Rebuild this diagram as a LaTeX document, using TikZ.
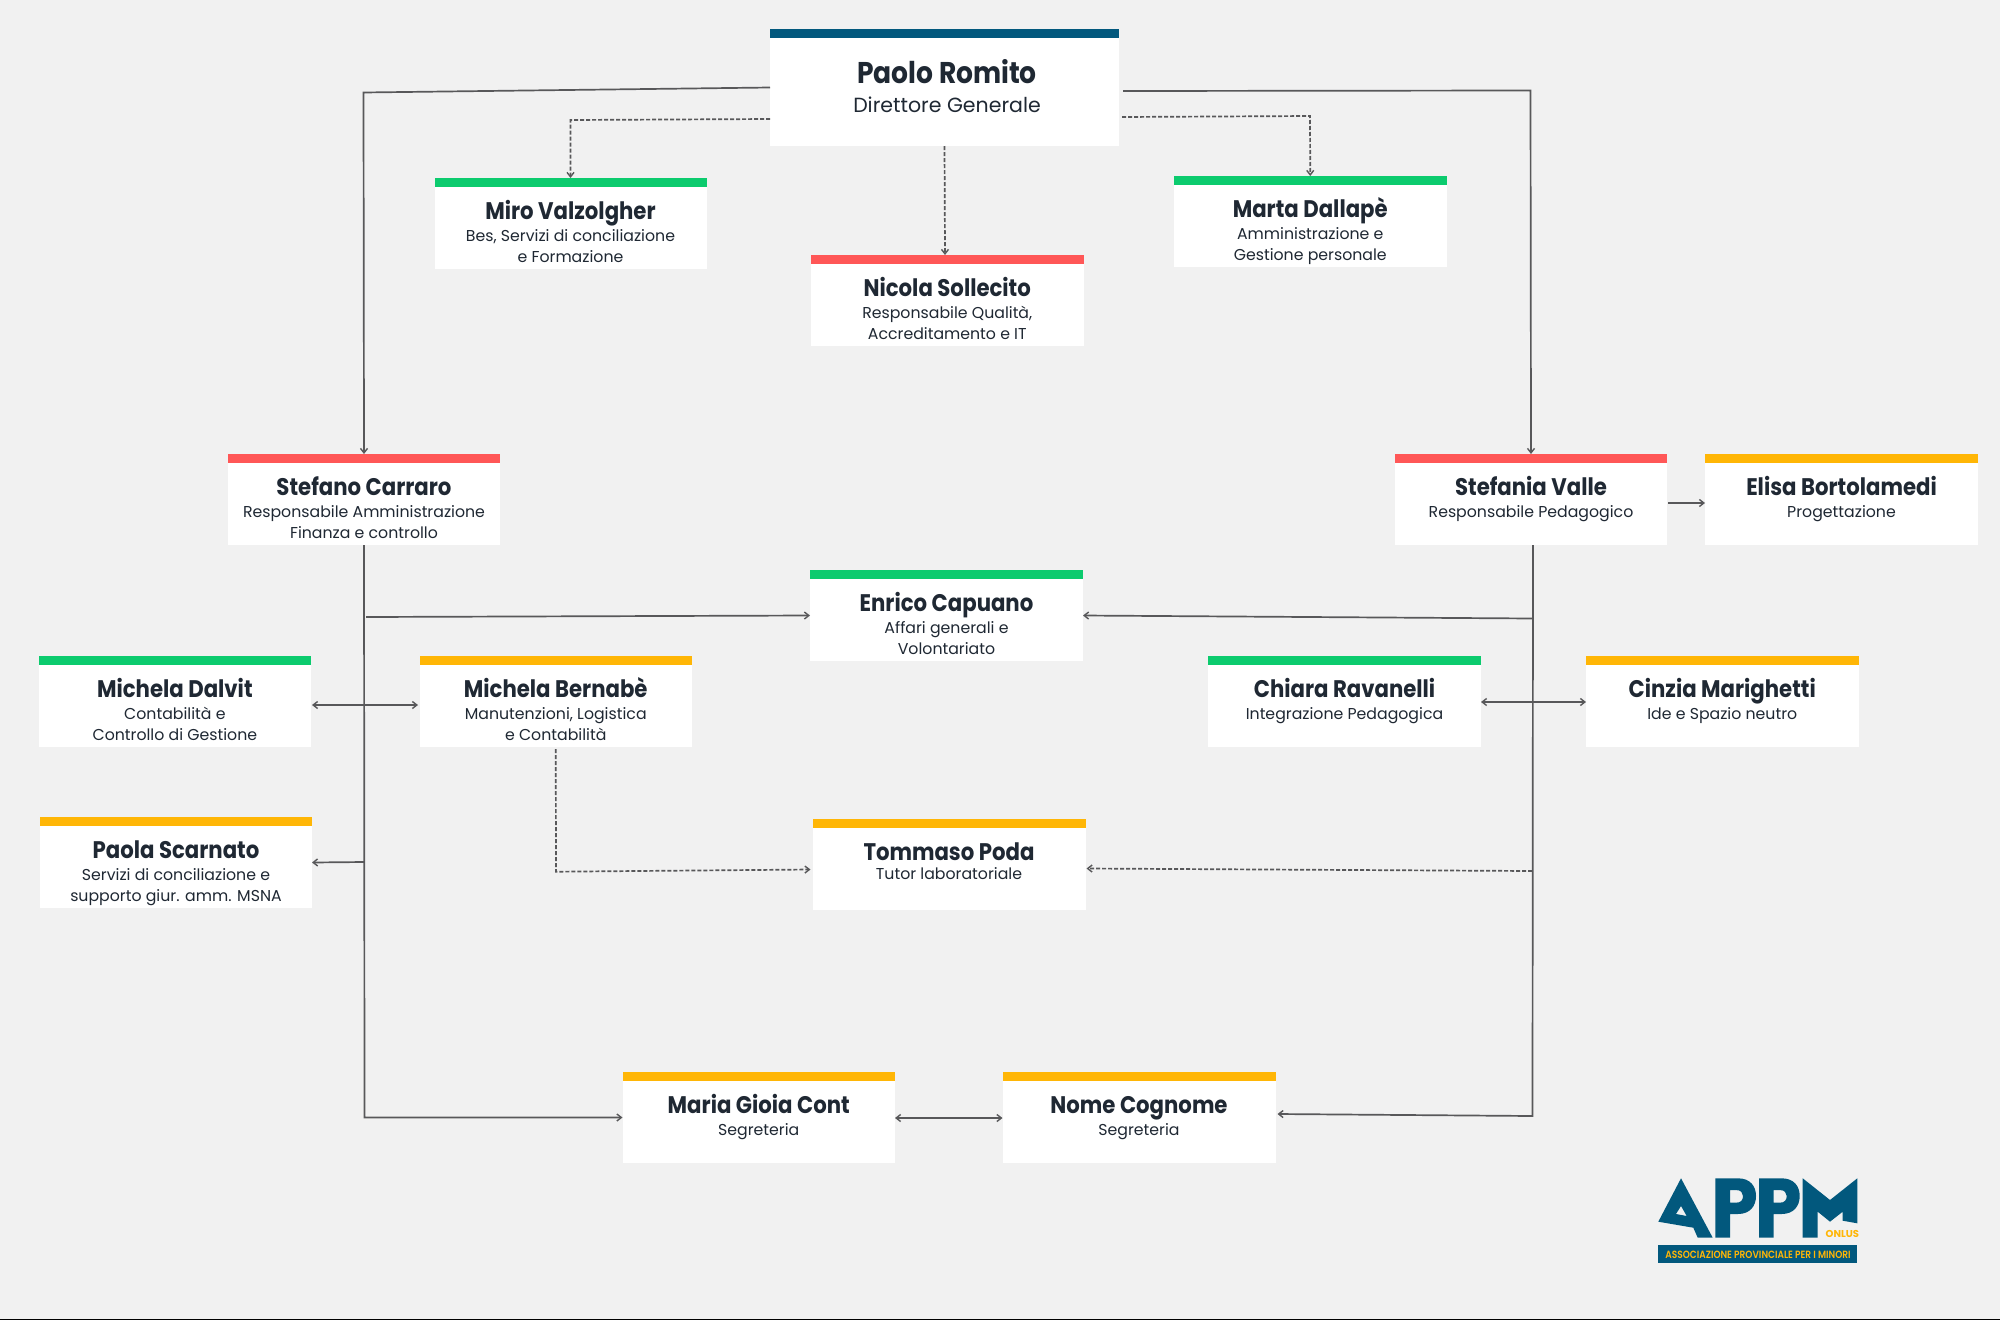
\documentclass[tikz,border=0pt]{standalone}
\usepackage{fontspec}
\usetikzlibrary{arrows.meta,calc}
\newfontfamily\namefont[FakeStretch=0.885]{Poppins Bold}
\newfontfamily\logofont[FakeStretch=0.86]{Poppins SemiBold}
\newfontfamily\onlusfont{Poppins Bold}
\newfontfamily\subfont{Poppins}
\definecolor{bgc}{HTML}{F1F1F1}
\definecolor{ink}{HTML}{1F2833}
\definecolor{linec}{HTML}{58585A}
\definecolor{navy}{HTML}{02587D}
\definecolor{ambra}{HTML}{FFB606}
\definecolor{verde}{HTML}{0CCB6E}
\definecolor{rosso}{HTML}{FF5757}
\tikzset{
  x=1pt,y=-1pt,
  cardbox/.style={fill=white,draw=none,inner sep=0pt,outer sep=0pt,minimum height=91pt},
  barbox/.style={draw=none,inner sep=0pt,outer sep=0pt,minimum height=8.5pt},
  nm/.style={anchor=base,inner sep=0pt,text=ink,font=\namefont\fontsize{24}{24}\selectfont},
  sb/.style={anchor=base,inner sep=0pt,text=ink,font=\subfont\fontsize{15.75}{15.75}\selectfont},
  conn/.style={draw=linec,line width=1.7pt,-{Straight Barb[length=4.5pt,width=7pt,line width=1.4pt]}},
  bothconn/.style={conn,{Straight Barb[length=4.5pt,width=7pt,line width=1.4pt]}-{Straight Barb[length=4.5pt,width=7pt,line width=1.4pt]}},
  dashconn/.style={conn,dash pattern=on 4pt off 2pt},
  logoshape/.style={fill=navy,draw=none},
  logotext/.style={anchor=base,inner sep=0pt,text=ambra},
}
% id, x1, x2, ytop, colour, name, line1, line2
\newcommand{\card}[8]{%
  \node[cardbox,minimum width={(#3-#2)*1pt}] (#1) at ({(#2+#3)/2},{#4+45.5}) {};
  \node[barbox,fill=#5,minimum width={(#3-#2)*1pt}] (#1-bar) at ({(#2+#3)/2},{#4+4.25}) {};
  \node[nm] (#1-name) at ({(#2+#3)/2},{#4+41.5}) {#6};
  \node[sb] (#1-a) at ({(#2+#3)/2},{#4+63.4}) {#7};
  \node[sb] (#1-b) at ({(#2+#3)/2},{#4+84.7}) {#8};
}
\newcommand{\pletter}{%
  (1715.3,1178.3) -- (1738,1178.3) .. controls (1750,1178.3) and (1756,1186) .. (1756,1196)
  .. controls (1756,1206) and (1750,1214) .. (1738,1214) -- (1730,1214) -- (1730,1237.7) -- (1715.3,1237.7) -- cycle
  (1730,1190) -- (1736,1190) .. controls (1741,1190) and (1743,1193) .. (1743,1196)
  .. controls (1743,1200) and (1741,1202.7) .. (1736,1202.7) -- (1730,1202.7) -- cycle}
\begin{document}
\begin{tikzpicture}
\useasboundingbox (0,0) rectangle (2000,1320);
\fill[bgc] (0,0) rectangle (2000,1320);
\fill[black] (0,1319) rectangle (2000,1320);
% top card
\node[cardbox,minimum width=349pt,minimum height=117pt] (romito) at (944.5,87.5) {};
\node[barbox,fill=navy,minimum width=349pt] (romito-bar) at (944,33.25) {};
\node[nm,font=\namefont\fontsize{30}{30}\selectfont] (romito-name) at (947,83) {Paolo Romito};
\node[sb,font=\subfont\fontsize{20.5}{20.5}\selectfont] (romito-sub) at (947,112) {Direttore Generale};
\card{miro}{434.5}{706.5}{178}{verde}{Miro Valzolgher}{Bes, Servizi di conciliazione}{e Formazione}
\card{nicola}{811}{1083.5}{255}{rosso}{Nicola Sollecito}{Responsabile Qualità,}{Accreditamento e IT}
\card{marta}{1174}{1446.5}{176}{verde}{Marta Dallapè}{Amministrazione e}{Gestione personale}
\card{carraro}{228}{500}{454}{rosso}{Stefano Carraro}{Responsabile Amministrazione}{Finanza e controllo}
\card{valle}{1395}{1667}{454}{rosso}{Stefania Valle}{Responsabile Pedagogico}{}
\card{elisa}{1705}{1978}{454}{ambra}{Elisa Bortolamedi}{Progettazione}{}
\card{capuano}{810}{1083}{570}{verde}{Enrico Capuano}{Affari generali e}{Volontariato}
\card{dalvit}{38.75}{311}{656}{verde}{Michela Dalvit}{Contabilità e}{Controllo di Gestione}
\card{bernabe}{419.5}{692}{656}{ambra}{Michela Bernabè}{Manutenzioni, Logistica}{e Contabilità}
\card{ravanelli}{1208}{1481}{656}{verde}{Chiara Ravanelli}{Integrazione Pedagogica}{}
\card{marighetti}{1586}{1858.5}{656}{ambra}{Cinzia Marighetti}{Ide e Spazio neutro}{}
\card{scarnato}{40}{312}{817}{ambra}{Paola Scarnato}{Servizi di conciliazione e}{supporto giur. amm. MSNA}
\card{poda}{812.5}{1085.5}{819}{ambra}{Tommaso Poda}{}{}
\node[sb] (poda-sub) at (949,879.5) {Tutor laboratoriale};
\card{cont}{622.5}{895}{1072}{ambra}{Maria Gioia Cont}{Segreteria}{}
\card{cognome}{1002.5}{1275.5}{1072}{ambra}{Nome Cognome}{Segreteria}{}
% bends and junctions
\coordinate (tl) at (363.5,92.5);
\coordinate (tr) at (1530.5,90.5);
\coordinate (dl) at (570.5,120);
\coordinate (dr) at (1310,116);
\coordinate (lb) at (364.5,1117.5);
\coordinate (rb) at (1532.5,1116);
\coordinate (lc) at (366,617);
\coordinate (rc) at (1533,618.5);
\coordinate (ls) at (364,862);
\coordinate (rp) at (1532,871);
\coordinate (bp) at (556,871.7);
% connectors
\draw[conn] (romito.west) -- (tl) -- (carraro.north);
\draw[conn] ([xshift=4pt,yshift=-3.5pt]romito.east) -- (tr) -- (valle.north);
\draw[dashconn] ([yshift=-31.5pt]romito.west) -- (dl) -- (miro.north);
\draw[dashconn] ([xshift=3pt,yshift=-29.5pt]romito.east) -- (dr) -- (marta.north);
\draw[dashconn] (romito.south) -- ([xshift=-2.25pt]nicola.north);
\draw[conn] (carraro.south) -- (lb) -- (cont.west);
\draw[conn] (lc) -- (capuano.west);
\draw[conn] (rc) -- (capuano.east);
\draw[bothconn] ([xshift=1pt,yshift=-3.5pt]dalvit.east) -- ([xshift=-1.5pt,yshift=-3.5pt]bernabe.west);
\draw[conn] (ls) -- (scarnato.east);
\draw[dashconn] ([yshift=-2pt]bernabe.south) -- (bp) -- ([xshift=-2pt,yshift=-5pt]poda.west);
\draw[conn] ([xshift=2pt]valle.south) -- (rb) -- ([xshift=2pt,yshift=3.5pt]cognome.east);
\draw[conn] ([xshift=1pt,yshift=-3.5pt]valle.east) -- ([yshift=-3.5pt]elisa.west);
\draw[dashconn] (rp) -- ([xshift=1pt,yshift=-4pt]poda.east);
\draw[bothconn] ([yshift=-.5pt]ravanelli.east) -- ([yshift=-.5pt]marighetti.west);
\draw[bothconn] ([yshift=-.5pt]cont.east) -- ([yshift=-.5pt]cognome.west);
% logo
\fill[logoshape,even odd rule] (1681,1178.3) -- (1712.7,1237.7) -- (1697.7,1237.7) -- (1693.3,1227.7) -- (1658.3,1221.7) -- cycle
  (1681,1206) -- (1686.7,1216) -- (1676,1214) -- cycle;
\fill[logoshape,even odd rule] \pletter;
\begin{scope}[xshift=43.7pt]
\fill[logoshape,even odd rule] \pletter;
\end{scope}
\fill[logoshape] (1802.7,1178.3) -- (1830,1200) -- (1857.3,1178.3) -- (1857.3,1223.3) -- (1842.7,1220.7) -- (1842.7,1211.7) -- (1830,1221.7) -- (1817.7,1211.7) -- (1817.7,1237.7) -- (1802.7,1237.7) -- cycle;
\fill[logoshape] (1658.3,1245) rectangle (1857.3,1262.7);
\node[logotext,font=\onlusfont\fontsize{10}{10}\selectfont] (onlus) at (1842.4,1237.7) {ONLUS};
\node[logotext,font=\logofont\fontsize{10.5}{10.5}\selectfont] (assoc) at (1758,1258.3) {ASSOCIAZIONE PROVINCIALE PER I MINORI};
\end{tikzpicture}
\end{document}
